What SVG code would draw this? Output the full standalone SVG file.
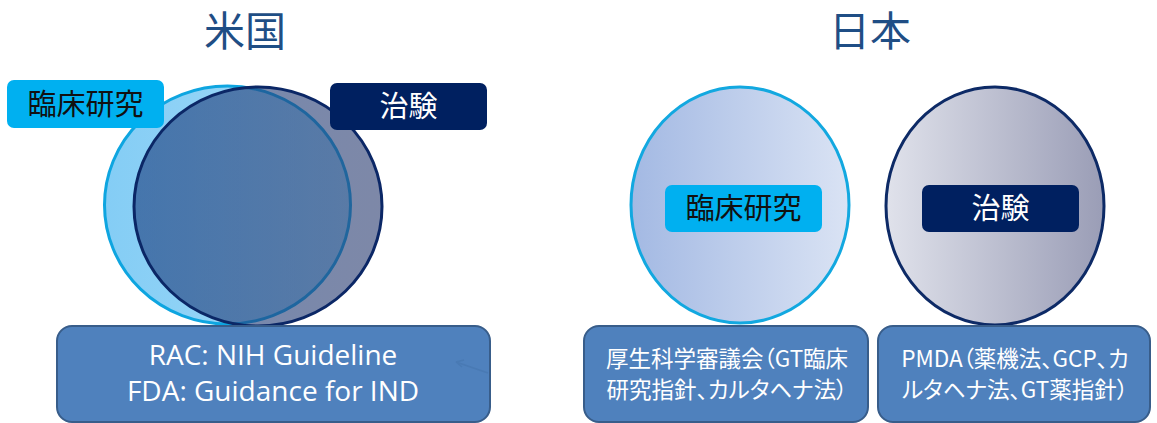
<svg xmlns="http://www.w3.org/2000/svg" width="1157" height="423" viewBox="0 0 1157 423">
<defs>
<style>
.title{font-family:"Noto Sans CJK JP","Noto Sans",sans-serif;font-size:41px;fill:#1f4e85;text-anchor:middle}
.lbl{font-family:"Noto Sans CJK JP","Noto Sans",sans-serif;font-size:29px;text-anchor:middle}
.lblL{fill:#00b0f0}
.lblD{fill:#002060}
.box{fill:#4f81bd;stroke:#385d8a;stroke-width:2}
.en{font-family:"Open Sans","Noto Sans",sans-serif;font-size:28px;fill:#ffffff;text-anchor:middle}
.jp{font-family:"Noto Sans CJK JP","Noto Sans",sans-serif;font-size:22.5px;fill:#ffffff;text-anchor:middle;font-feature-settings:"palt"}
</style>
<linearGradient id="gL1" x1="0" y1="0" x2="1" y2="0">
<stop offset="0" stop-color="#84cdf5"/><stop offset="1" stop-color="#a4dbf8"/>
</linearGradient>
<linearGradient id="gD1" x1="0" y1="0" x2="1" y2="0">
<stop offset="0" stop-color="#1c3f80"/><stop offset="1" stop-color="#2e3f72"/>
</linearGradient>
<linearGradient id="gL2" x1="0" y1="0" x2="1" y2="0">
<stop offset="0" stop-color="#a3b9e3"/><stop offset="1" stop-color="#dae3f4"/>
</linearGradient>
<linearGradient id="gD2" x1="0" y1="0" x2="1" y2="0">
<stop offset="0" stop-color="#e0e2eb"/><stop offset="1" stop-color="#9a9db6"/>
</linearGradient>
</defs>
<rect width="1157" height="423" fill="#ffffff"/>

<g id="title-us"><text class="title" x="245" y="46">米国</text></g>
<g id="title-jp"><text class="title" x="870" y="46">日本</text></g>

<g id="us-clinical-circle">
<ellipse cx="227.5" cy="205" rx="123" ry="119" fill="url(#gL1)" stroke="#0ea5e0" stroke-width="3"/>
</g>
<g id="us-trial-circle">
<ellipse cx="258" cy="206.5" rx="124" ry="119.5" fill="url(#gD1)" fill-opacity="0.62" stroke="#0b2766" stroke-width="3"/>
</g>

<g id="us-clinical-label">
<rect class="lblL" x="7" y="80" width="157" height="48" rx="7"/>
<text class="lbl" x="85.5" y="115" fill="#111111">臨床研究</text>
</g>
<g id="us-trial-label">
<rect class="lblD" x="330" y="83" width="157" height="47" rx="7"/>
<text class="lbl" x="408.5" y="117" fill="#ffffff">治験</text>
</g>

<g id="us-regulation">
<rect class="box" x="57" y="326" width="433" height="96" rx="15"/>
<text class="en" x="273" y="365">RAC: NIH Guideline</text>
<text class="en" x="273" y="401">FDA: Guidance for IND</text>
</g>

<g id="jp-clinical-circle">
<ellipse cx="740" cy="205" rx="109" ry="118" fill="url(#gL2)" stroke="#12a8e0" stroke-width="3"/>
</g>
<g id="jp-trial-circle">
<ellipse cx="995" cy="206" rx="109" ry="119" fill="url(#gD2)" stroke="#0d2a66" stroke-width="3"/>
</g>

<g id="jp-clinical-label">
<rect class="lblL" x="665" y="185" width="157" height="47" rx="7"/>
<text class="lbl" x="743.5" y="219" fill="#111111">臨床研究</text>
</g>
<g id="jp-trial-label">
<rect class="lblD" x="922" y="185" width="157" height="47" rx="7"/>
<text class="lbl" x="1000.5" y="219" fill="#ffffff">治験</text>
</g>

<g id="jp-clinical-regulation">
<rect class="box" x="584" y="326" width="284" height="96" rx="15"/>
<text class="jp" x="727" y="367">厚生科学審議会（GT臨床</text>
<text class="jp" x="727" y="398">研究指針、カルタヘナ法）</text>
</g>
<g id="jp-trial-regulation">
<rect class="box" x="878" y="326" width="272" height="96" rx="15"/>
<text class="jp" x="1015" y="367">PMDA（薬機法、GCP、カ</text>
<text class="jp" x="1015" y="398">ルタヘナ法、GT薬指針）</text>
</g>

<g id="connectors">
<path d="M488 373 L456 362 M456 362 L464 360 M456 362 L462 367" fill="none" stroke="#3e6da3" stroke-width="1.5" opacity="0.35"/>
</g>
</svg>
